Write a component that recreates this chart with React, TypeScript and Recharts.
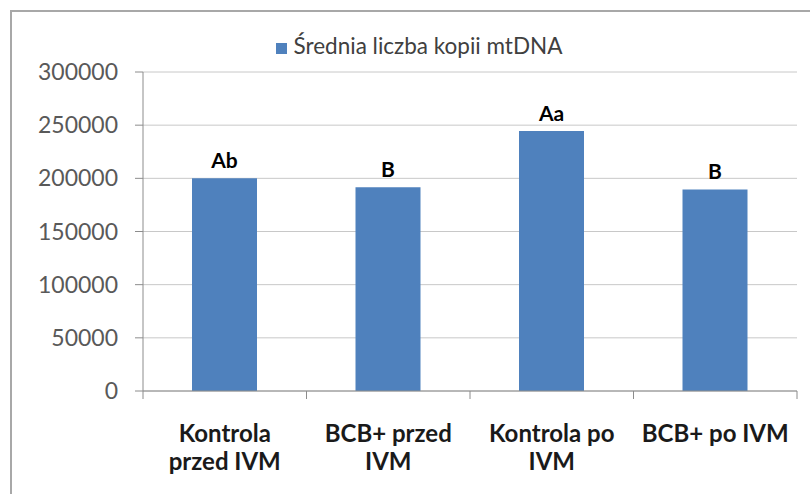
import React from 'react';
import { BarChart, Bar, XAxis, YAxis, CartesianGrid, Legend, LabelList } from 'recharts';

const categories = ['Kontrola przed IVM', 'BCB+ przed IVM', 'Kontrola po IVM', 'BCB+ po IVM'];
const copies = [200000, 191500, 244500, 189500];
const groups = ['Ab', 'B', 'Aa', 'B'];
const yTicks = [0, 50000, 100000, 150000, 200000, 250000, 300000];

const data = categories.map((name, i) => ({ name, copies: copies[i], group: groups[i] }));

const FONT = 'Lato, "Open Sans", sans-serif';
const LABEL_FONT = `700 24px Lato`;
const AXIS_GAP = 34; // tickSize + tickMargin of the category axis

let ctx: CanvasRenderingContext2D | null = null;
const wrap = (text: string, maxWidth: number) => {
  if (!ctx) ctx = document.createElement('canvas').getContext('2d');
  if (!ctx) return [text];
  ctx.font = LABEL_FONT;
  const lines: string[] = [];
  let cur = '';
  text.split(' ').forEach((w) => {
    const next = cur ? cur + ' ' + w : w;
    if (cur && ctx!.measureText(next).width > maxWidth) {
      lines.push(cur);
      cur = w;
    } else {
      cur = next;
    }
  });
  if (cur) lines.push(cur);
  return lines;
};

const CategoryTick = (props: any) => {
  const { x, y, payload, index, visibleTicksCount } = props;
  const half = payload.offset ?? 0;
  const axisY = y - AXIS_GAP;
  const lines = wrap(payload.value, 156);
  return (
    <g>
      <line x1={x - half} x2={x - half} y1={axisY} y2={axisY + 8} stroke="#8c8c8c" />
      {index === visibleTicksCount - 1 && (
        <line x1={x + half} x2={x + half} y1={axisY} y2={axisY + 8} stroke="#8c8c8c" />
      )}
      <text
        x={x}
        y={y}
        textAnchor="middle"
        fill="#1a1a1a"
        style={{ fontFamily: FONT, fontSize: 24, fontWeight: 700 }}
      >
        {lines.map((l, i) => (
          <tspan key={i} x={x} dy={i === 0 ? 17 : 28}>
            {l}
          </tspan>
        ))}
      </text>
    </g>
  );
};

export default function App() {
  return (
    <div style={{ position: 'absolute', left: 0, top: 0, width: 810, height: 494, overflow: 'hidden', background: '#fff' }}>
      <div
        style={{
          position: 'absolute',
          left: 10,
          top: 10,
          width: 840,
          height: 520,
          border: '2px solid #a8a8a8',
          boxSizing: 'border-box',
        }}
      />
      <BarChart
        width={810}
        height={494}
        data={data}
        margin={{ top: 48, right: 13, bottom: 0, left: 83 }}
        style={{ position: 'absolute', left: 0, top: 0, fontFamily: FONT }}
      >
        <CartesianGrid vertical={false} stroke="#c8c8c8" />
        <Legend
          verticalAlign="top"
          align="center"
          iconType="square"
          iconSize={11}
          wrapperStyle={{ top: 32, left: 34, width: 780, height: 24, fontSize: 22.5, fontFamily: FONT }}
          formatter={(v: string) => <span style={{ color: '#404040', marginLeft: 3 }}>{v}</span>}
        />
        <XAxis
          dataKey="name"
          height={103}
          interval={0}
          tickLine={false}
          tickSize={6}
          tickMargin={28}
          stroke="#8c8c8c"
          tick={<CategoryTick />}
        />
        <YAxis
          width={60}
          domain={[0, 300000]}
          ticks={yTicks}
          interval={0}
          tickSize={8}
          tickMargin={17}
          stroke="#8c8c8c"
          tick={{ fill: '#595959', fontSize: 23, fontFamily: FONT }}
        />
        <Bar
          dataKey="copies"
          name="Średnia liczba kopii mtDNA"
          fill="#4F81BD"
          barSize={65}
          isAnimationActive={false}
        >
          <LabelList dataKey="group" position="top" offset={10} fill="#000" fontSize={21} fontWeight={700} fontFamily={FONT} />
        </Bar>
      </BarChart>
    </div>
  );
}
